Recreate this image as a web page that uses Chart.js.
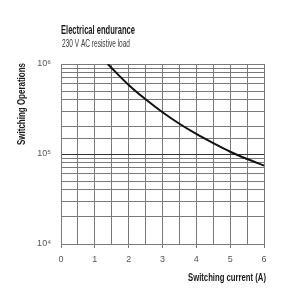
<!DOCTYPE html>
<html><head><meta charset="utf-8">
<script src="https://cdn.jsdelivr.net/npm/chart.js@4/dist/chart.umd.min.js"></script>
<style>html,body{margin:0;padding:0;background:#fff}#wrap{width:300px;height:300px;position:relative}</style>
</head><body><div id="wrap"><canvas id="c" width="300" height="300"></canvas></div>
<script>
const currentA = [1.38, 2.0, 2.5, 3.0, 3.5, 4.0, 4.5, 5.0, 5.5, 6.0];
const operations = [1000000, 585000, 405000, 291000, 217000, 167000, 132000, 106000, 88000, 74500];
const xTickLabels = [0, 1, 2, 3, 4, 5, 6];
const yTickLabels = {10000: '10⁴', 100000: '10⁵', 1000000: '10⁶'};
const titleText = 'Electrical endurance';
const subtitleText = '230 V AC resistive load';
const xTitle = 'Switching current (A)';
const yTitle = 'Switching Operations';

const FONT = "'Liberation Sans', Arial, sans-serif";
const GRID = '#7a7a7a';

// draw text horizontally compressed (condensed face look-alike) to a given width
function condensed(ctx, text, x, y, font, width, align, rot, color) {
  ctx.save();
  ctx.font = font;
  ctx.fillStyle = color;
  ctx.textBaseline = 'middle';
  ctx.textAlign = align;
  const w = ctx.measureText(text).width;
  ctx.translate(x, y);
  if (rot) ctx.rotate(rot);
  ctx.scale(width / w, 1);
  ctx.fillText(text, 0, 0);
  ctx.restore();
}

const textPlugin = {
  id: 'texts',
  afterDraw(chart) {
    const ctx = chart.ctx, a = chart.chartArea;
    condensed(ctx, titleText, a.left, 31, 'bold 12px ' + FONT, 74, 'left', 0, '#1a1a1a');
    condensed(ctx, subtitleText, a.left + 1, 44, '10px ' + FONT, 68, 'left', 0, '#3a3a3a');
    condensed(ctx, xTitle, a.right + 2, 278, 'bold 11px ' + FONT, 78, 'right', 0, '#1a1a1a');
    condensed(ctx, yTitle, 22, a.top - 1, 'bold 11px ' + FONT, 82, 'right', -Math.PI / 2, '#1a1a1a');
  }
};

new Chart(document.getElementById('c'), {
  type: 'line',
  data: {
    datasets: [{
      data: currentA.map((x, i) => ({x: x, y: operations[i]})),
      borderColor: '#111',
      borderWidth: 2,
      pointRadius: 0,
      cubicInterpolationMode: 'monotone',
      fill: false
    }]
  },
  options: {
    responsive: false,
    devicePixelRatio: 1,
    animation: false,
    layout: {padding: {left: 0, right: 36, top: 64, bottom: 0}},
    plugins: {legend: {display: false}, tooltip: {enabled: false}},
    scales: {
      x: {
        type: 'linear', min: 0, max: 6,
        afterFit(s) { s.height = 56; },
        ticks: {
          stepSize: 0.5, autoSkip: false, maxRotation: 0, padding: 6,
          color: '#555', font: {family: FONT, size: 9},
          callback: v => xTickLabels.includes(v) ? String(v) : ''
        },
        grid: {
          color: GRID, lineWidth: 1, tickLength: 4,
          tickColor: c => (c.tick && xTickLabels.includes(c.tick.value)) ? GRID : 'rgba(0,0,0,0)'
        },
        border: {color: GRID},
        title: {display: false}
      },
      y: {
        type: 'logarithmic', min: 10000, max: 1000000,
        afterFit(s) { s.width = 61; },
        ticks: {
          autoSkip: false, padding: 10, color: '#555', font: {family: FONT, size: 9},
          callback: v => yTickLabels[Math.round(v)] || ''
        },
        grid: {
          drawTicks: false,
          color: c => (c.tick && Math.round(c.tick.value) === 100000) ? '#333' : GRID,
          lineWidth: 1
        },
        border: {color: GRID},
        title: {display: false}
      }
    }
  },
  plugins: [textPlugin]
});
</script></body></html>
